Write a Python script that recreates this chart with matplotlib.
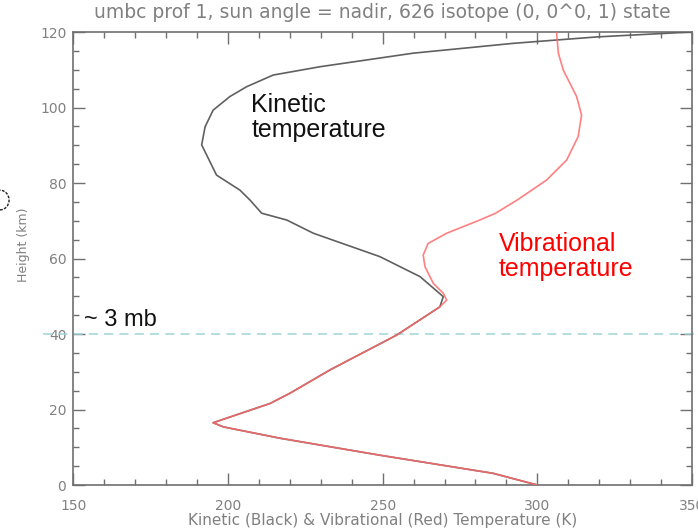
import matplotlib
matplotlib.use("Agg")
import matplotlib.pyplot as plt
from matplotlib.patches import Ellipse
from matplotlib.ticker import MultipleLocator

# kinetic temperature profile (K) vs height (km)
kin_height = [0, 3.1, 7.9, 12.4, 15.4, 16.5, 21.6, 24.3, 30.5, 39.7, 47.2, 49.9,
              55.2, 60.5, 66.7, 70.2, 72.0, 75.5, 78.1, 82.1, 90.1, 94.9, 99.3,
              102.9, 105.5, 108.6, 110.8, 114.4, 117.0, 118.7, 120.0]
kin_temp = [300, 285.7, 249.1, 216.8, 198.5, 195.2, 213.6, 220.0, 233.0, 254.5, 268.5, 269.6,
            262.1, 249.1, 227.6, 219.0, 210.9, 207.1, 203.9, 196.3, 191.5, 192.6, 195.2,
            200.6, 206.0, 214.6, 229.7, 259.9, 292.2, 319.2, 349.5]

# vibrational temperature profile
vib_height = [0, 3.1, 7.9, 12.4, 15.4, 16.5, 21.6, 24.3, 30.5, 39.7, 47.2, 49.0,
              50.8, 53.4, 57.8, 60.9, 64.0, 66.7, 70.2, 72.0, 75.5, 80.8, 86.1,
              92.3, 98.0, 102.9, 109.9, 114.4, 120.0]
vib_temp = [300, 285.7, 249.1, 216.8, 198.5, 195.2, 213.6, 220.0, 233.0, 254.5, 268.5, 270.7,
            269.6, 266.4, 263.7, 263.1, 264.7, 270.7, 281.4, 286.5, 293.5, 303.0, 309.5,
            313.2, 314.3, 312.7, 308.4, 306.8, 306.2]

level_3mb = 40

grey = "#808080"

fig = plt.figure(figsize=(6.98, 5.32), dpi=100)
ax = fig.add_axes([0.1050, 0.0883, 0.8864, 0.8515])

ax.plot(kin_temp, kin_height, color="#606060", lw=1.2, zorder=3)
ax.plot(vib_temp, vib_height, color="#ff6a6a", lw=1.2, alpha=0.85, zorder=4)

ax.plot([140.2, 352], [level_3mb, level_3mb], color="#9fd6d6", lw=1.1,
        ls=(0, (6, 4)), clip_on=False, zorder=2)

ax.set_xlim(150, 350)
ax.set_ylim(0, 120)
ax.xaxis.set_major_locator(MultipleLocator(50))
ax.xaxis.set_minor_locator(MultipleLocator(10))
ax.yaxis.set_major_locator(MultipleLocator(20))
ax.yaxis.set_minor_locator(MultipleLocator(5))

for s in ax.spines.values():
    s.set_color("#707070")
    s.set_linewidth(1.2)

ax.tick_params(which="both", direction="in", top=True, right=True, color="#707070",
               labelcolor=grey, labelsize=10)
ax.tick_params(which="major", length=8.5, width=1)
ax.tick_params(which="minor", length=4.5, width=1)
ax.tick_params(axis="x", pad=10)
ax.tick_params(axis="y", pad=5)

ax.set_title("umbc prof 1, sun angle = nadir, 626 isotope (0, 0^0, 1) state",
             fontsize=13.5, color=grey, pad=10)
ax.set_xlabel("Kinetic (Black) & Vibrational (Red) Temperature (K)", fontsize=11, color=grey)
ax.set_ylabel("Height (km)", fontsize=9, color=grey)
ax.xaxis.set_label_coords(0.5, -0.062)
ax.yaxis.set_label_coords(-0.07, 0.53)

ax.text(207.5, 91, "Kinetic\ntemperature", fontsize=18, family="Liberation Sans",
        color="#111111", linespacing=1.05, va="bottom", ha="left")
ax.text(287.5, 54, "Vibrational\ntemperature", fontsize=18, family="Liberation Sans",
        color="#ff0000", linespacing=1.05, va="bottom", ha="left")
ax.text(153.5, 40.8, "~ 3 mb", fontsize=17, family="Liberation Sans",
        color="#111111", va="bottom", ha="left")

fig.patches.append(Ellipse((0.0, 0.624), 0.026, 0.037, transform=fig.transFigure,
                           fill=False, ec="#222222", lw=1, ls=(0, (2, 1))))

fig.savefig("out.png", dpi=100)
